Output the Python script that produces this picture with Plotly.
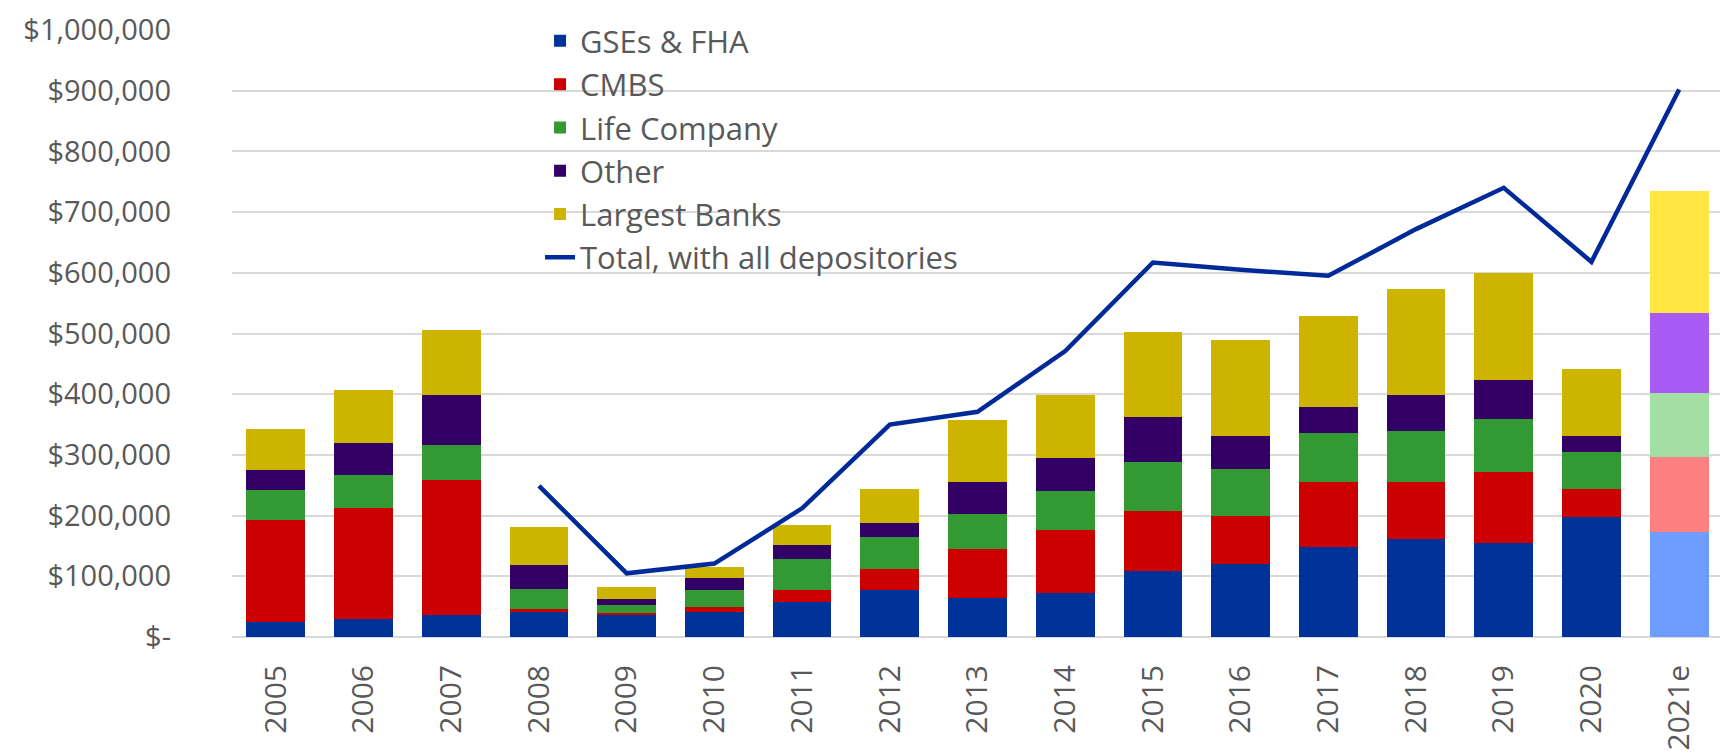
import plotly.graph_objects as go

years = ["2005", "2006", "2007", "2008", "2009", "2010", "2011", "2012", "2013",
         "2014", "2015", "2016", "2017", "2018", "2019", "2020", "2021e"]

# stacked segment values ($)
gses_fha = [25000, 29000, 37000, 42000, 37000, 42000, 57000, 78000, 65000,
            72000, 108000, 121000, 148000, 161000, 155000, 197000, 173000]
cmbs = [167000, 183000, 222000, 4000, 2000, 7000, 21000, 34000, 80000,
        105000, 99000, 79000, 107000, 94000, 117000, 47000, 123000]
life_company = [51000, 55000, 57000, 33000, 14000, 28000, 51000, 53000, 58000,
                63000, 81000, 77000, 81000, 84000, 87000, 61000, 106000]
other = [32000, 52000, 82000, 39000, 10000, 20000, 23000, 23000, 52000,
         55000, 75000, 54000, 43000, 59000, 64000, 26000, 131000]
largest_banks = [68000, 88000, 108000, 63000, 19000, 19000, 32000, 56000, 103000,
                 103000, 140000, 158000, 150000, 175000, 177000, 110000, 202000]
total_all_depositories = [None, None, None, 249000, 105000, 121000, 212000, 350000, 371000,
                          471000, 617000, 605000, 595000, 672000, 740000, 618000, 902000]

series_names = ["GSEs & FHA", "CMBS", "Life Company", "Other", "Largest Banks"]
series_values = [gses_fha, cmbs, life_company, other, largest_banks]

y_tickvals = [0, 100000, 200000, 300000, 400000, 500000, 600000, 700000, 800000, 900000, 1000000]
y_ticktext = ["$-", "$100,000", "$200,000", "$300,000", "$400,000", "$500,000",
              "$600,000", "$700,000", "$800,000", "$900,000", "$1,000,000"]

# style
base_colors = ["#003399", "#cc0000", "#339933", "#330066", "#ccb400"]
est_colors = ["#6e9cff", "#ff8080", "#a3dfa3", "#a95cf5", "#ffe642"]
line_color = "#002a9a"
text_color = "#595959"
font_family = "Open Sans"

fig = go.Figure()
for name, vals, c, ec in zip(series_names, series_values, base_colors, est_colors):
    colors = [c] * (len(years) - 1) + [ec]
    fig.add_trace(go.Bar(
        x=years, y=vals, name=name,
        marker=dict(color=colors, line=dict(width=0)),
    ))

fig.add_trace(go.Scatter(
    x=years, y=total_all_depositories, name="Total, with all depositories",
    mode="lines", line=dict(color=line_color, width=4.5),
    connectgaps=False,
))

fig.update_layout(
    width=1728, height=752,
    barmode="stack", bargap=0.33,
    plot_bgcolor="white", paper_bgcolor="white",
    margin=dict(l=224, r=13, t=22, b=123, autoexpand=False),
    font=dict(family=font_family, size=30, color=text_color),
    legend=dict(
        x=0.2066, y=1.026, xanchor="left", yanchor="top",
        bgcolor="rgba(0,0,0,0)", traceorder="normal",
        font=dict(family=font_family, size=31, color=text_color),
        itemwidth=30,
    ),
    showlegend=True,
)
fig.update_xaxes(
    type="category", tickangle=-90, showgrid=False, showline=False,
    ticks="", ticklabelstandoff=21, automargin=False,
    ticklabeloverflow="allow",
    tickfont=dict(family=font_family, size=30, color=text_color),
)
fig.update_yaxes(
    range=[0, 1000000], tickvals=y_tickvals, ticktext=y_ticktext,
    showgrid=True, gridcolor="#d9d9d9", gridwidth=1.5,
    zeroline=True, zerolinecolor="#d9d9d9", zerolinewidth=1.5,
    showline=False, ticks="", ticklabelstandoff=60, automargin=False,
    ticklabeloverflow="allow",
    tickfont=dict(family=font_family, size=29, color=text_color),
)

fig.write_html("out.html")
